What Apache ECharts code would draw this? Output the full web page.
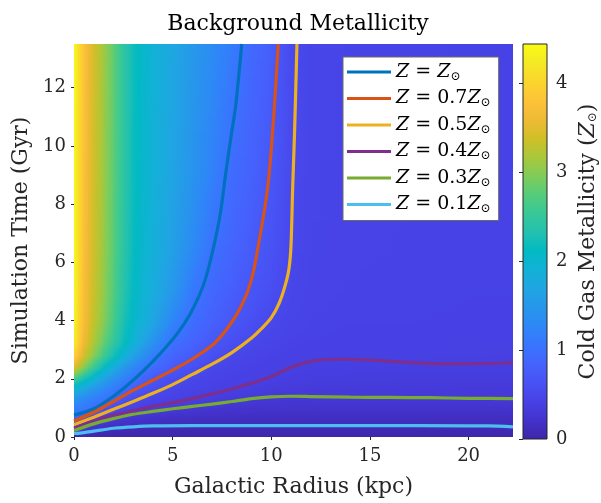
<!DOCTYPE html>
<html>
<head>
<meta charset="utf-8">
<script src="https://cdn.jsdelivr.net/npm/echarts@6/dist/echarts.min.js"></script>
<style>
  html, body { margin: 0; padding: 0; background: #fff; }
  #chart { width: 601px; height: 503px; }
</style>
</head>
<body>
<div id="chart"></div>
<script>
// sampled galactic radii (kpc), one column of the field each
const radii = [0, 0.25, 0.5, 0.75, 1, 1.5, 2, 2.5, 3, 3.5, 4, 5, 6, 7, 8, 9, 10, 11, 12, 14, 17, 20, 22.25];
// simulation times (Gyr), one row of the field each
const times = [0, 0.15, 0.3, 0.45, 0.6, 0.8, 1.0, 1.2, 1.4, 1.7, 2.0, 2.4, 2.8, 3.3, 4.0, 5.0, 6.5, 9.0, 13.5];
// cold gas metallicity (Z_sun): metallicity[row of times][column of radii]
const metallicity = [
  [0.02, 0.02, 0.02, 0.02, 0.02, 0.02, 0.02, 0.02, 0.02, 0.02, 0.02, 0.02, 0.02, 0.02, 0.02, 0.02, 0.02, 0.02, 0.02, 0.02, 0.02, 0.02, 0.02],
  [0.16, 0.12, 0.10, 0.08, 0.07, 0.055, 0.05, 0.045, 0.04, 0.04, 0.04, 0.04, 0.04, 0.04, 0.04, 0.04, 0.04, 0.04, 0.04, 0.04, 0.04, 0.04, 0.04],
  [0.40, 0.33, 0.28, 0.24, 0.21, 0.16, 0.10, 0.09, 0.085, 0.08, 0.078, 0.075, 0.075, 0.075, 0.075, 0.075, 0.075, 0.075, 0.075, 0.075, 0.075, 0.075, 0.075],
  [0.52, 0.47, 0.42, 0.37, 0.30, 0.25, 0.20, 0.17, 0.15, 0.14, 0.13, 0.12, 0.115, 0.11, 0.11, 0.11, 0.11, 0.11, 0.11, 0.11, 0.11, 0.11, 0.11],
  [0.75, 0.67, 0.56, 0.48, 0.44, 0.36, 0.29, 0.25, 0.22, 0.20, 0.18, 0.16, 0.15, 0.145, 0.14, 0.14, 0.14, 0.14, 0.14, 0.14, 0.14, 0.14, 0.14],
  [1.05, 1.00, 0.85, 0.73, 0.66, 0.49, 0.43, 0.39, 0.32, 0.29, 0.27, 0.24, 0.22, 0.20, 0.19, 0.185, 0.18, 0.18, 0.18, 0.18, 0.18, 0.18, 0.18],
  [1.18, 1.15, 1.10, 1.06, 1.02, 0.65, 0.54, 0.47, 0.44, 0.41, 0.38, 0.32, 0.29, 0.26, 0.24, 0.235, 0.23, 0.23, 0.23, 0.235, 0.235, 0.235, 0.23],
  [1.35, 1.30, 1.22, 1.15, 1.09, 1.02, 0.69, 0.58, 0.50, 0.46, 0.43, 0.403, 0.37, 0.33, 0.295, 0.28, 0.27, 0.265, 0.265, 0.268, 0.27, 0.27, 0.27],
  [1.55, 1.48, 1.40, 1.32, 1.24, 1.10, 1.00, 0.68, 0.58, 0.52, 0.48, 0.44, 0.415, 0.39, 0.36, 0.335, 0.31, 0.30, 0.298, 0.30, 0.302, 0.305, 0.305],
  [2.0, 1.9, 1.78, 1.66, 1.55, 1.35, 1.15, 1.01, 0.78, 0.66, 0.60, 0.48, 0.45, 0.42, 0.405, 0.38, 0.36, 0.345, 0.34, 0.335, 0.335, 0.33, 0.33],
  [2.6, 2.45, 2.25, 2.1, 1.95, 1.65, 1.40, 1.20, 1.02, 0.86, 0.71, 0.56, 0.48, 0.45, 0.43, 0.415, 0.398, 0.38, 0.37, 0.365, 0.36, 0.36, 0.36],
  [3.5, 3.25, 3.0, 2.75, 2.55, 2.15, 1.82, 1.52, 1.28, 1.10, 0.95, 0.75, 0.60, 0.48, 0.45, 0.43, 0.415, 0.40, 0.39, 0.385, 0.385, 0.38, 0.38],
  [4.0, 3.7, 3.4, 3.2, 3.0, 2.6, 2.25, 1.95, 1.65, 1.40, 1.15, 0.86, 0.74, 0.60, 0.49, 0.45, 0.43, 0.42, 0.41, 0.41, 0.41, 0.405, 0.40],
  [4.3, 3.95, 3.6, 3.4, 3.2, 2.85, 2.5, 2.2, 1.95, 1.7, 1.45, 1.02, 0.86, 0.72, 0.60, 0.50, 0.46, 0.44, 0.43, 0.42, 0.42, 0.415, 0.41],
  [4.4, 4.0, 3.7, 3.5, 3.3, 3.0, 2.65, 2.3, 2.05, 1.88, 1.72, 1.25, 0.97, 0.82, 0.70, 0.60, 0.50, 0.46, 0.44, 0.43, 0.43, 0.425, 0.42],
  [4.4, 4.05, 3.72, 3.52, 3.35, 3.05, 2.72, 2.38, 2.12, 1.95, 1.82, 1.5, 1.1, 0.9, 0.78, 0.68, 0.58, 0.48, 0.45, 0.44, 0.435, 0.43, 0.43],
  [4.4, 4.08, 3.75, 3.55, 3.38, 3.08, 2.76, 2.42, 2.16, 2.0, 1.88, 1.62, 1.32, 1.01, 0.87, 0.74, 0.64, 0.50, 0.46, 0.445, 0.44, 0.435, 0.43],
  [4.4, 4.1, 3.78, 3.56, 3.4, 3.1, 2.78, 2.45, 2.18, 2.02, 1.9, 1.68, 1.45, 1.2, 0.95, 0.83, 0.69, 0.52, 0.465, 0.45, 0.44, 0.435, 0.43],
  [4.42, 4.1, 3.8, 3.58, 3.42, 3.12, 2.8, 2.46, 2.2, 2.04, 1.92, 1.72, 1.52, 1.34, 1.13, 0.92, 0.78, 0.54, 0.47, 0.455, 0.445, 0.44, 0.435]
];

// contour lines [radius, time]
const contourSolar = [[0, 0.75], [1, 0.97], [2, 1.4], [3, 1.95], [4, 2.6], [5, 3.35], [5.6, 3.9], [6.1, 4.5], [6.6, 5.3], [7.0, 6.3], [7.4, 7.6], [7.7, 9.1], [8.0, 10.5], [8.2, 11.4], [8.5, 13.5]];
const contour07 = [[0, 0.55], [1, 0.85], [2, 1.22], [3, 1.6], [4, 1.95], [5, 2.3], [6, 2.68], [7, 3.15], [7.5, 3.5], [8, 3.95], [8.4, 4.4], [8.8, 5.0], [9.1, 5.7], [9.4, 6.8], [9.7, 8.0], [9.9, 9.1], [10.15, 11.3], [10.35, 13.5]];
const contour05 = [[0, 0.42], [1, 0.68], [2, 0.95], [3, 1.22], [4, 1.5], [5, 1.8], [6, 2.15], [7, 2.5], [8, 2.9], [9, 3.4], [9.5, 3.72], [10, 4.1], [10.4, 4.6], [10.7, 5.2], [10.9, 5.8], [11.0, 6.6], [11.08, 8.5], [11.18, 10.5], [11.3, 13.5]];
const contour04 = [[0, 0.3], [1, 0.55], [2, 0.75], [3, 0.9], [4, 1.05], [5, 1.18], [6, 1.32], [7, 1.48], [8, 1.65], [9, 1.85], [10, 2.08], [11, 2.4], [12, 2.6], [13, 2.67], [14, 2.67], [15, 2.64], [16, 2.6], [17, 2.56], [18, 2.53], [20, 2.52], [22.25, 2.55]];
const contour03 = [[0, 0.22], [1, 0.45], [2, 0.63], [3, 0.78], [4, 0.88], [5, 0.97], [6, 1.05], [7, 1.13], [8, 1.22], [9, 1.32], [10, 1.38], [11, 1.4], [12, 1.39], [14, 1.37], [16, 1.36], [18, 1.35], [20, 1.33], [22.25, 1.32]];
const contour01 = [[0, 0.12], [0.5, 0.15], [1, 0.2], [1.5, 0.25], [2, 0.3], [3, 0.35], [4, 0.38], [6, 0.39], [10, 0.39], [15, 0.39], [20, 0.385], [21, 0.38], [22.25, 0.35]];

const contourNames = ['Z = Z⊙', 'Z = 0.7Z⊙', 'Z = 0.5Z⊙', 'Z = 0.4Z⊙', 'Z = 0.3Z⊙', 'Z = 0.1Z⊙'];
const contourColors = ['#0072BD', '#D95319', '#EDB120', '#7E2F8E', '#77AC30', '#4DBEEE'];
const contours = [contourSolar, contour07, contour05, contour04, contour03, contour01];

const radiusMax = 22.25;
const timeMax = 13.5;
const colorbarRange = [0, 4.44];

// parula
const parula = ['#3E26A8', '#4332CB', '#4741E5', '#4852F4', '#4563FD', '#3875FE', '#2E87F7', '#2796EB',
  '#20A5E3', '#12B1D6', '#02BAC3', '#24C1AE', '#37C897', '#57CC7A', '#81CC59', '#ABC739',
  '#D1BF27', '#F0BA36', '#FEC338', '#FAD62D', '#F5E924', '#F9FB15'];

const font = 'DejaVu Serif';
const ink = '#262626';

function colorOf(z) {
  const f = (z - colorbarRange[0]) / (colorbarRange[1] - colorbarRange[0]);
  return echarts.color.lerp(Math.min(Math.max(f, 0), 1), parula);
}

// cells between neighbouring samples: [r0, r1, t0, t1, z(r0,t0), z(r1,t0), z(r0,t1), z(r1,t1)]
const cells = [];
for (let j = 0; j < times.length - 1; j++) {
  for (let i = 0; i < radii.length - 1; i++) {
    cells.push([radii[i], radii[i + 1], times[j], times[j + 1],
      metallicity[j][i], metallicity[j][i + 1], metallicity[j + 1][i], metallicity[j + 1][i + 1]]);
  }
}

// interpolated shading, drawn as thin strips with horizontal gradients
function renderCell(params, api) {
  const pTop = api.coord([api.value(0), api.value(3)]);
  const pBot = api.coord([api.value(1), api.value(2)]);
  const x = pTop[0], w = pBot[0] - pTop[0];
  const yBot = pBot[1], h = pBot[1] - pTop[1];
  const z00 = api.value(4), z10 = api.value(5), z01 = api.value(6), z11 = api.value(7);
  const n = Math.max(1, Math.ceil(h / 2));
  const children = [];
  for (let k = 0; k < n; k++) {
    const s = (k + 0.5) / n;
    const zl = z00 + (z01 - z00) * s;
    const zr = z10 + (z11 - z10) * s;
    const stops = [];
    for (let m = 0; m <= 4; m++) {
      stops.push({ offset: m / 4, color: colorOf(zl + (zr - zl) * m / 4) });
    }
    const y1 = yBot - (k + 1) * h / n;
    children.push({
      type: 'rect',
      shape: { x: x - 0.5, y: y1 - 0.5, width: w + 1, height: h / n + 1 },
      style: { fill: new echarts.graphic.LinearGradient(0, 0, 1, 0, stops) }
    });
  }
  return { type: 'group', children: children };
}

function renderColorbar(params, api) {
  const p0 = api.coord([api.value(0), api.value(3)]);
  const p1 = api.coord([api.value(1), api.value(2)]);
  const stops = parula.map((c, k) => ({ offset: k / (parula.length - 1), color: c }));
  return {
    type: 'rect',
    shape: { x: p0[0], y: p0[1], width: p1[0] - p0[0], height: p1[1] - p0[1] },
    style: { fill: new echarts.graphic.LinearGradient(0, 1, 0, 0, stops), stroke: ink, lineWidth: 1 }
  };
}

const richZ = {
  i: { fontStyle: 'italic', fontFamily: font },
  s: { fontSize: 12, fontFamily: font, padding: [9, 0, 0, 0] }
};

const chart = echarts.init(document.getElementById('chart'));

const lineSeries = contours.map((pts, k) => ({
  name: contourNames[k],
  type: 'line',
  data: pts,
  showSymbol: false,
  smooth: 0.3,
  lineStyle: { color: contourColors[k], width: 3.2 },
  itemStyle: { color: contourColors[k] },
  silent: true,
  z: 3
}));

chart.setOption({
  animation: false,
  title: {
    text: 'Background Metallicity',
    left: 293,
    textAlign: 'center',
    top: 8,
    textStyle: { fontFamily: font, fontSize: 22, fontWeight: 'normal', color: '#000' }
  },
  legend: {
    data: contourNames,
    orient: 'vertical',
    left: 343,
    top: 57,
    padding: [4, 8, 5, 4],
    itemGap: 4.5,
    itemWidth: 44,
    itemHeight: 3,
    icon: 'rect',
    selectedMode: false,
    backgroundColor: '#fff',
    borderColor: '#6a6a6a',
    borderWidth: 1,
    borderRadius: 0,
    formatter: name => name.replace(/Z/g, '{i|Z}').replace('⊙', '{s|⊙}'),
    textStyle: { fontFamily: font, fontSize: 19, color: '#000', lineHeight: 22, rich: richZ }
  },
  grid: [
    { left: 74, right: 88, top: 44, bottom: 64 },
    { left: 523, right: 54, top: 44, bottom: 64 }
  ],
  xAxis: [
    {
      type: 'value', gridIndex: 0, min: 0, max: radiusMax, interval: 5,
      name: 'Galactic Radius (kpc)', nameLocation: 'middle', nameGap: 39,
      nameTextStyle: { fontFamily: font, fontSize: 22, color: ink },
      axisLine: { show: false },
      axisTick: { show: true, length: 3, lineStyle: { color: ink } },
      axisLabel: { fontFamily: font, fontSize: 18, color: ink, margin: 10, showMaxLabel: false },
      splitLine: { show: false }
    },
    {
      type: 'value', gridIndex: 1, min: 0, max: 1, show: false
    }
  ],
  yAxis: [
    {
      type: 'value', gridIndex: 0, min: 0, max: timeMax, interval: 2,
      name: 'Simulation Time (Gyr)', nameLocation: 'middle', nameGap: 38,
      nameTextStyle: { fontFamily: font, fontSize: 22, color: ink },
      axisLine: { show: false },
      axisTick: { show: true, length: 3, lineStyle: { color: ink } },
      axisLabel: { fontFamily: font, fontSize: 18, color: ink, margin: 8, showMaxLabel: false },
      splitLine: { show: false }
    },
    {
      type: 'value', gridIndex: 1, position: 'right', min: colorbarRange[0], max: colorbarRange[1], interval: 1,
      name: 'Cold Gas Metallicity ({i|Z}{s|⊙})', nameLocation: 'middle', nameGap: 30,
      nameTextStyle: { fontFamily: font, fontSize: 22, color: ink, rich: richZ },
      z: 5,
      axisLine: { show: false },
      axisTick: { show: true, inside: true, length: 4, lineStyle: { color: ink } },
      axisLabel: { fontFamily: font, fontSize: 18, color: ink, margin: 9, showMaxLabel: false },
      splitLine: { show: false }
    }
  ],
  series: [
    {
      type: 'custom',
      xAxisIndex: 0,
      yAxisIndex: 0,
      renderItem: renderCell,
      encode: { x: [0, 1], y: [2, 3] },
      data: cells,
      clip: true,
      silent: true,
      z: 1
    },
    {
      type: 'custom',
      xAxisIndex: 1,
      yAxisIndex: 1,
      renderItem: renderColorbar,
      encode: { x: [0, 1], y: [2, 3] },
      data: [[0, 1, colorbarRange[0], colorbarRange[1]]],
      silent: true,
      z: 1
    }
  ].concat(lineSeries)
});
</script>
</body>
</html>
